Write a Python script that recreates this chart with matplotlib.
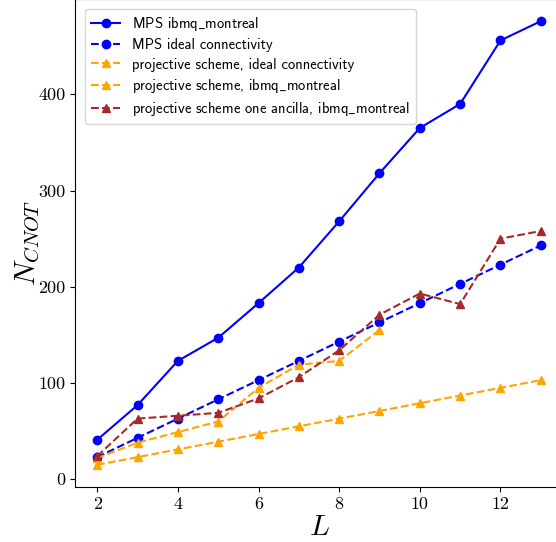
import matplotlib
matplotlib.use("Agg")
import matplotlib.pyplot as plt

L = [2, 3, 4, 5, 6, 7, 8, 9, 10, 11, 12, 13]
L_proj_montreal = [2, 3, 4, 5, 6, 7, 8, 9]

mps_montreal = [41, 77, 123, 147, 183, 220, 268, 318, 365, 390, 456, 476]
mps_ideal = [23, 43, 63, 83, 103, 123, 143, 163, 183, 203, 223, 243]
proj_ideal = [15, 23, 31, 39, 47, 55, 63, 71, 79, 87, 95, 103]
proj_montreal = [22, 38, 49, 60, 95, 119, 123, 155]
proj_one_ancilla = [24, 63, 66, 69, 84, 106, 134, 171, 193, 182, 250, 258]

labels = [
    r"MPS ibmq$\_$montreal",
    "MPS ideal connectivity",
    "projective scheme, ideal connectivity",
    r"projective scheme, ibmq$\_$montreal",
    r"projective scheme one ancilla, ibmq$\_$montreal",
]
xticks = [2, 4, 6, 8, 10, 12]
yticks = [0, 100, 200, 300, 400]

plt.rcParams['mathtext.fontset'] = 'cm'
plt.rcParams['axes.formatter.use_mathtext'] = True

fig = plt.figure(figsize=(5.56, 5.42), dpi=100)
ax = fig.add_axes([75 / 556, 55 / 542, 488 / 556, 488 / 542])

ax.plot(L, mps_montreal, '-o', color='blue', lw=1.5, ms=6, label=labels[0])
ax.plot(L, mps_ideal, '--o', color='blue', lw=1.5, ms=6, label=labels[1])
ax.plot(L, proj_ideal, '--^', color='orange', lw=1.5, ms=6, label=labels[2])
ax.plot(L_proj_montreal, proj_montreal, '--^', color='orange', lw=1.5, ms=6, label=labels[3])
ax.plot(L, proj_one_ancilla, '--^', color='brown', lw=1.5, ms=6, label=labels[4])

ax.set_xticks(xticks)
ax.set_yticks(yticks)
ax.set_xticklabels([str(v) for v in xticks], fontfamily='cmr10', fontsize=13)
ax.set_yticklabels([str(v) for v in yticks], fontfamily='cmr10', fontsize=13)
ax.set_xlabel(r'$L$', fontsize=21, labelpad=1)
ax.set_ylabel(r'$N_{CNOT}$', fontsize=21, labelpad=-3)

leg = ax.legend(loc='upper left', prop={'family': ['cmss10', 'DejaVu Sans'], 'size': 10.5},
                framealpha=0.8, borderaxespad=0.7, labelspacing=0.36)

fig.savefig('out.png', dpi=100)
